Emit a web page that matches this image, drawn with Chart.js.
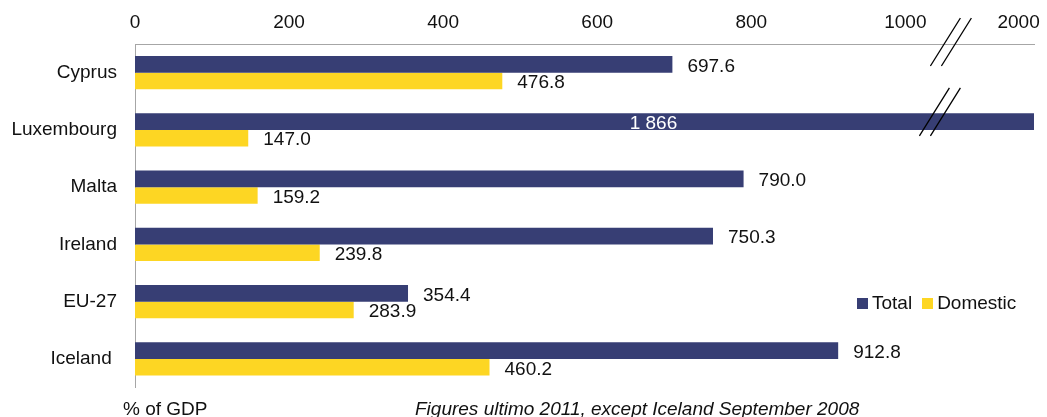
<!DOCTYPE html>
<html>
<head>
<meta charset="utf-8">
<script src="https://cdn.jsdelivr.net/npm/chart.js@4.4.1/dist/chart.umd.min.js"></script>
<style>
  html,body{margin:0;padding:0;background:#fff}
  #wrap{position:relative;width:1047px;height:417px;overflow:hidden;font-family:"Liberation Sans",Arial,sans-serif;color:#111}
  canvas{position:absolute;left:0;top:0}
  .legend{position:absolute;left:857px;top:292px;font-size:19px;display:flex;align-items:center;white-space:nowrap}
  .sw{display:inline-block;width:11px;height:11px;margin-right:4px}
  .foot{position:absolute;top:399px;font-size:19px;line-height:19px;white-space:nowrap}
</style>
</head>
<body>
<div id="wrap">
  <canvas id="c" width="1047" height="417"></canvas>
  <div class="legend">
    <span class="sw" style="background:#373e74"></span><span style="margin-right:10px">Total</span>
    <span class="sw" style="background:#fdd623"></span><span>Domestic</span>
  </div>
  <div class="foot" style="left:123px">% of GDP</div>
  <div class="foot" style="left:415px;font-style:italic">Figures ultimo 2011, except Iceland September 2008</div>
</div>
<script>
const COUNTRIES=['Cyprus','Luxembourg','Malta','Ireland','EU-27','Iceland ']
const TOTAL=[697.6,1866,790.0,750.3,354.4,912.8]
const DOMESTIC=[476.8,147.0,159.2,239.8,283.9,460.2]
// broken axis: last tick sits just past the break and is labelled 2000
const TICK_VALUES=[0,200,400,600,800,1000,1147]
const TICK_LABELS=['0','200','400','600','800','1000','2000']
const X_MAX=1167

const navy='#373e74',yellow='#fdd623',axisC='#a6a6a6',txt='#111'
const font={family:'"Liberation Sans", Arial, sans-serif',size:19}

const fmt=v=>v>=1000?String(Math.round(v)).replace(/\B(?=(\d{3})+$)/,' '):v.toFixed(1)

const valueLabels={
  id:'valueLabels',
  afterDatasetsDraw(chart){
    const {ctx,scales:{x}}=chart
    ctx.save()
    ctx.font=`${font.size}px ${font.family}`
    ctx.textBaseline='middle'
    chart.data.datasets.forEach((ds,i)=>{
      chart.getDatasetMeta(i).data.forEach((bar,j)=>{
        const v=ds.data[j]
        if(v>X_MAX){
          ctx.fillStyle='#fff';ctx.textAlign='center'
          ctx.fillText(fmt(v),x.getPixelForValue(673),bar.y+2)
        }else{
          ctx.fillStyle=txt;ctx.textAlign='left'
          ctx.fillText(fmt(v),bar.x+15,bar.y+2)
        }
      })
    })
    ctx.restore()
  }
}

const breakMarks={
  id:'breakMarks',
  afterDraw(chart){
    const {ctx,scales:{x,y}}=chart
    const bx=x.getPixelForValue(1052)
    const pairs=[[bx,chart.chartArea.top],[bx-11,y.getPixelForValue(1)-16]]
    ctx.save()
    ctx.strokeStyle='#000';ctx.lineWidth=1.3
    pairs.forEach(([px,py])=>{
      for(const d of [0,11]){
        ctx.beginPath()
        ctx.moveTo(px-15+d,py+22)
        ctx.lineTo(px+15+d,py-26)
        ctx.stroke()
      }
    })
    ctx.restore()
  }
}

new Chart(document.getElementById('c'),{
  type:'bar',
  data:{labels:COUNTRIES,datasets:[
    {label:'Total',data:TOTAL,backgroundColor:navy,categoryPercentage:0.58,barPercentage:1,clip:0},
    {label:'Domestic',data:DOMESTIC,backgroundColor:yellow,categoryPercentage:0.58,barPercentage:1,clip:0}
  ]},
  options:{
    indexAxis:'y',
    responsive:false,animation:false,
    layout:{padding:{left:0,right:13,top:0,bottom:29}},
    plugins:{legend:{display:false},tooltip:{enabled:false}},
    scales:{
      x:{
        position:'top',min:0,max:X_MAX,
        afterBuildTicks:a=>{a.ticks=TICK_VALUES.map(v=>({value:v}))},
        afterFit:a=>{a.height=44;a.paddingLeft=0;a.paddingRight=0},
        ticks:{color:txt,font,padding:10,maxRotation:0,autoSkip:false,callback:(v,i)=>TICK_LABELS[i]},
        grid:{display:false,drawTicks:false},
        border:{display:true,color:axisC,width:1}
      },
      y:{
        afterFit:a=>{a.width=135},
        ticks:{color:txt,font,padding:18},
        grid:{display:false,drawTicks:false},
        border:{display:true,color:axisC,width:1}
      }
    }
  },
  plugins:[valueLabels,breakMarks]
})
</script>
</body>
</html>
